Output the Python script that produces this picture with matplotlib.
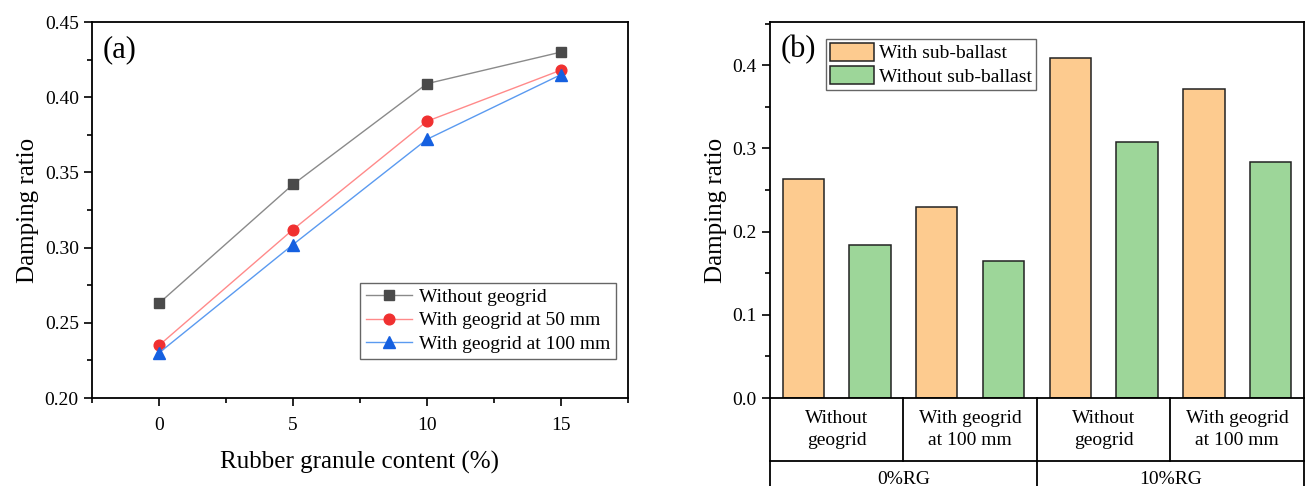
import numpy as np
import matplotlib.pyplot as plt
from matplotlib.ticker import MultipleLocator
import matplotlib.transforms as mtransforms

plt.rcParams['font.family'] = ['Liberation Serif', 'DejaVu Serif']

# (a) damping ratio vs rubber granule content
rg_content = [0, 5, 10, 15]
sem_geogrid = [0.263, 0.342, 0.409, 0.430]
geogrid_50 = [0.235, 0.312, 0.384, 0.418]
geogrid_100 = [0.230, 0.302, 0.372, 0.415]

# (b) bars
grupos = ['Without\ngeogrid', 'With geogrid\nat 100 mm', 'Without\ngeogrid', 'With geogrid\nat 100 mm']
grupos_rg = ['0%RG', '10%RG']
com_sub = [0.263, 0.230, 0.409, 0.372]
sem_sub = [0.184, 0.165, 0.308, 0.284]

fig = plt.figure(figsize=(13.07, 4.86), dpi=100)

# ---------- painel (a)
ax1 = fig.add_axes([0.0704, 0.181, 0.410, 0.7737])
ax1.plot(rg_content, sem_geogrid, color='#8a8a8a', lw=1, marker='s', ms=7,
         mfc='#4a4a4a', mec='#4a4a4a', label='Without geogrid')
ax1.plot(rg_content, geogrid_50, color='#ff8a8a', lw=1, marker='o', ms=7.7,
         mfc='#f03030', mec='#f03030', label='With geogrid at 50 mm')
ax1.plot(rg_content, geogrid_100, color='#5a9af0', lw=1, marker='^', ms=8.5,
         mfc='#1560e0', mec='#1560e0', label='With geogrid at 100 mm')
ax1.set_xlim(-2.5, 17.5)
ax1.set_ylim(0.20, 0.45)
ax1.set_xticks(rg_content)
ax1.xaxis.set_minor_locator(MultipleLocator(2.5))
ax1.yaxis.set_major_locator(MultipleLocator(0.05))
ax1.yaxis.set_minor_locator(MultipleLocator(0.025))
ax1.yaxis.set_major_formatter(plt.FormatStrFormatter('%.2f'))
ax1.tick_params(which='major', direction='out', length=6, width=1.2, labelsize=14, right=False, top=False)
ax1.tick_params(which='minor', direction='out', length=3.5, width=1.2, right=False, top=False)
ax1.tick_params(axis='x', pad=8)
for s in ax1.spines.values():
    s.set_linewidth(1.3)
ax1.set_xlabel('Rubber granule content (%)', fontsize=18, labelpad=12)
ax1.set_ylabel('Damping ratio', fontsize=18, labelpad=4)
ax1.text(0.019, 0.965, '(a)', transform=ax1.transAxes, fontsize=22, va='top')
leg1 = ax1.legend(loc='upper left', bbox_to_anchor=(0.50, 0.307), fontsize=14,
                  frameon=True, fancybox=False, edgecolor='#404040', handlelength=2.4,
                  borderpad=0.3, labelspacing=0.3, handletextpad=0.35, borderaxespad=0)
leg1.get_frame().set_linewidth(1)

# ---------- painel (b)
ax2 = fig.add_axes([0.589, 0.181, 0.4087, 0.7737])
x = np.arange(len(grupos))
larg = 0.31
ax2.bar(x - 0.25, com_sub, larg, color='#fdcb8f', edgecolor='#222222', lw=1.1, label='With sub-ballast')
ax2.bar(x + 0.25, sem_sub, larg, color='#9dd699', edgecolor='#222222', lw=1.1, label='Without sub-ballast')
ax2.set_xlim(-0.5, 3.5)
ax2.set_ylim(0, 0.452)
ax2.yaxis.set_major_locator(MultipleLocator(0.1))
ax2.yaxis.set_minor_locator(MultipleLocator(0.05))
ax2.yaxis.set_major_formatter(plt.FormatStrFormatter('%.1f'))
ax2.set_xticks([])
ax2.tick_params(which='major', direction='out', length=6, width=1.2, labelsize=14)
ax2.tick_params(which='minor', direction='out', length=3.5, width=1.2)
for s in ax2.spines.values():
    s.set_linewidth(1.3)
ax2.set_ylabel('Damping ratio', fontsize=18, labelpad=4)
ax2.text(0.02, 0.965, '(b)', transform=ax2.transAxes, fontsize=22, va='top')
leg2 = ax2.legend(loc='upper left', bbox_to_anchor=(0.105, 0.955), fontsize=14,
                  frameon=True, fancybox=False, edgecolor='#404040', handlelength=2.25,
                  handleheight=1.05, borderpad=0.2, labelspacing=0.2, handletextpad=0.3,
                  borderaxespad=0)
leg2.get_frame().set_linewidth(1)

# tabela de categorias abaixo do eixo
trans = mtransforms.blended_transform_factory(ax2.transData, ax2.transAxes)
linha1 = -0.168
linha2 = -0.30
for xb in [-0.5, 0.5, 1.5, 2.5, 3.5]:
    ax2.plot([xb, xb], [0, linha1], transform=trans, color='black', lw=1.3, clip_on=False)
for xb in [-0.5, 1.5, 3.5]:
    ax2.plot([xb, xb], [linha1, linha2], transform=trans, color='black', lw=1.3, clip_on=False)
ax2.plot([-0.5, 3.5], [linha1, linha1], transform=trans, color='black', lw=1.3, clip_on=False)
for i, g in enumerate(grupos):
    ax2.text(x[i], linha1 / 2, g, transform=trans, ha='center', va='center',
             fontsize=14, linespacing=1.35)
for j, g in enumerate(grupos_rg):
    ax2.text(0.5 + 2 * j, linha1 - 0.048, g, transform=trans, ha='center', va='center', fontsize=14)

fig.savefig('out.png', dpi=100)
